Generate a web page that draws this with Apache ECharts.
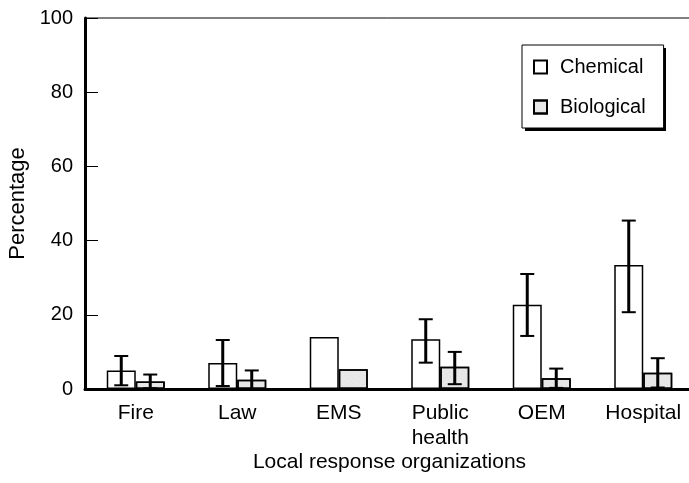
<!DOCTYPE html>
<html>
<head>
<meta charset="utf-8">
<script src="https://cdn.jsdelivr.net/npm/echarts@6/dist/echarts.min.js"></script>
<style>html,body{margin:0;padding:0;background:#fff}#c{width:689px;height:483px}</style>
</head>
<body>
<div id="c"></div>
<script>
var categories = ['Fire', 'Law', 'EMS', 'Public\nhealth', 'OEM', 'Hospital'];
var chemical = [5, 7, 14, 13.4, 22.7, 33.4];
var biological = [2, 2.5, 5.3, 6, 2.9, 4.4];
var chemLow = [1, 0.8, null, 7.1, 14.3, 20.7];
var chemHigh = [8.9, 13.2, null, 18.8, 31, 45.4];
var bioLow = [0.2, 0, null, 1.3, 0.3, 0.4];
var bioHigh = [3.9, 5, null, 10, 5.5, 8.3];
var yTicks = [0, 20, 40, 60, 80, 100];

var FONT = 'Liberation Sans, Arial, sans-serif';
var BAR_W = 29;

function errData(lo, hi) {
  var out = [];
  for (var i = 0; i < lo.length; i++) {
    if (lo[i] != null && hi[i] != null) out.push([i, lo[i], hi[i]]);
  }
  return out;
}
function errRender(offset) {
  return function (params, api) {
    var i = api.value(0);
    var p1 = api.coord([i, api.value(1)]);
    var p2 = api.coord([i, api.value(2)]);
    var x = p1[0] + offset;
    var cap = 7;
    return {
      type: 'group',
      children: [
        { type: 'line', shape: { x1: x, y1: p1[1], x2: x, y2: p2[1] }, style: { stroke: '#000', lineWidth: 3 } },
        { type: 'line', shape: { x1: x - cap, y1: p2[1], x2: x + cap, y2: p2[1] }, style: { stroke: '#000', lineWidth: 2 } },
        { type: 'line', shape: { x1: x - cap, y1: p1[1], x2: x + cap, y2: p1[1] }, style: { stroke: '#000', lineWidth: 2 } }
      ]
    };
  };
}

var chart = echarts.init(document.getElementById('c'), null, { renderer: 'canvas' });
chart.setOption({
  animation: false,
  backgroundColor: '#fff',
  textStyle: { fontFamily: FONT, color: '#000' },
  grid: {
    left: 85, top: 18, width: 609, height: 371,
    containLabel: false, outerBoundsMode: 'none',
    show: true, borderColor: '#000', borderWidth: 1, backgroundColor: 'transparent'
  },
  graphic: [
    { type: 'rect', left: 525, top: 48, z: 0, zlevel: 0, shape: { width: 141, height: 83 }, style: { fill: '#000' }, silent: true }
  ],
  legend: {
    orient: 'vertical',
    left: 522, top: 45,
    padding: [12, 18, 11, 11],
    itemGap: 20,
    itemWidth: 13, itemHeight: 13,
    icon: 'rect',
    z: 10,
    backgroundColor: '#fff',
    borderColor: '#000', borderWidth: 1,
    textStyle: { fontFamily: FONT, fontSize: 20, color: '#000', padding: [0, 0, 0, 8] },
    data: ['Chemical', 'Biological']
  },
  xAxis: {
    type: 'category',
    data: categories,
    name: 'Local response organizations',
    nameLocation: 'middle',
    nameGap: 63,
    nameMoveOverlap: false,
    nameTextStyle: { fontFamily: FONT, fontSize: 21, color: '#000' },
    axisLine: { lineStyle: { color: '#000', width: 3 } },
    axisTick: { inside: true, length: 13, lineStyle: { color: '#000', width: 1.5 } },
    axisLabel: { fontFamily: FONT, fontSize: 21, color: '#000', margin: 12, lineHeight: 25 }
  },
  yAxis: {
    type: 'value',
    min: 0, max: 100, interval: 20,
    name: 'Percentage',
    nameLocation: 'middle',
    nameGap: 56,
    nameMoveOverlap: false,
    nameTextStyle: { fontFamily: FONT, fontSize: 22, color: '#000' },
    axisLine: { show: true, lineStyle: { color: '#000', width: 3 } },
    axisTick: { show: true, inside: true, length: 13, lineStyle: { color: '#000', width: 1 } },
    axisLabel: {
      fontFamily: FONT, fontSize: 20, color: '#000', margin: 12,
      formatter: function (v) { return yTicks.indexOf(v) >= 0 ? String(v) : ''; }
    },
    splitLine: { show: false }
  },
  series: [
    {
      name: 'Chemical', type: 'bar', data: chemical, barWidth: BAR_W, barGap: '0%',
      itemStyle: { color: '#fff', borderColor: '#000', borderWidth: 1.5 }
    },
    {
      name: 'Biological', type: 'bar', data: biological, barWidth: BAR_W, barGap: '0%',
      itemStyle: {
        color: '#e8e8e8', borderColor: '#000', borderWidth: 1.5,
        decal: { symbol: 'circle', symbolSize: 0.5, color: 'rgba(0,0,0,0.25)', dashArrayX: [1, 3], dashArrayY: [1, 3], rotation: 0.6 }
      }
    },
    {
      type: 'custom', name: 'chemErr', data: errData(chemLow, chemHigh),
      encode: { x: 0, y: [1, 2] }, renderItem: errRender(-BAR_W / 2), z: 5, silent: true
    },
    {
      type: 'custom', name: 'bioErr', data: errData(bioLow, bioHigh),
      encode: { x: 0, y: [1, 2] }, renderItem: errRender(BAR_W / 2), z: 5, silent: true
    }
  ]
});
</script>
</body>
</html>
